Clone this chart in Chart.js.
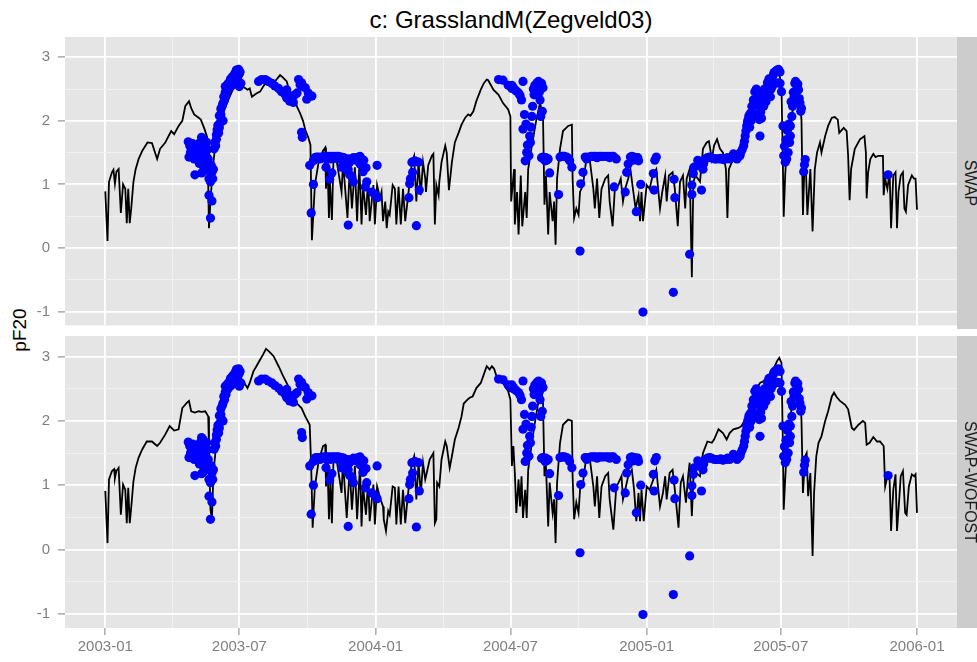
<!DOCTYPE html>
<html>
<head>
<meta charset="utf-8">
<title>c: GrasslandM(Zegveld03)</title>
<script src="https://cdn.jsdelivr.net/npm/chart.js@4.4.1/dist/chart.umd.min.js"></script>
<style>
  html, body { margin: 0; padding: 0; background: #fff; overflow: hidden; }
  #wrap { position: relative; width: 977px; height: 662px; overflow: hidden;
          font-family: "Liberation Sans", Arial, sans-serif; }
  canvas { position: absolute; left: 0; }
  #topChart { top: 0; }
  #bottomChart { top: 330px; }
  .title { position: absolute; left: 65px; width: 892px; top: 6px; text-align: center;
           font-size: 24px; color: #000; }
  .ylab { position: absolute; left: 20px; top: 330px; font-size: 19px; color: #000;
          transform: translate(-50%, -50%) rotate(-90deg); white-space: nowrap; }
  .strip { position: absolute; left: 957px; width: 26px; background: #CCCCCC; }
  .strip span { position: absolute; left: 13px; top: 50%; font-size: 16px; color: #1A1A1A;
                transform: translate(-50%, -50%) rotate(90deg); white-space: nowrap; }
</style>
</head>
<body>
<div id="wrap">
  <div class="title">c: GrasslandM(Zegveld03)</div>
  <div class="ylab">pF20</div>
  <canvas id="topChart" width="977" height="330"></canvas>
  <canvas id="bottomChart" width="977" height="332"></canvas>
  <div class="strip" style="top:37px;height:292px;"><span>SWAP</span></div>
  <div class="strip" style="top:336px;height:292px;"><span>SWAP-WOFOST</span></div>
</div>
<script>
// x values are days since 2003-01-01
const xTickDays = [0, 181, 365, 547, 731, 912, 1096];
const xTickLabels = ['2003-01', '2003-07', '2004-01', '2004-07', '2005-01', '2005-07', '2006-01'];
const yTickValues = [-1, 0, 1, 2, 3];
const facetLabels = ['SWAP', 'SWAP-WOFOST'];

// simulated pF, SWAP run [day, pF]
const swapLine = [
  [0,0.89],[3,0.11],[5,1.04],[9,1.19],[11,1.23],[13,1.01],[15,1.20],[18,1.24],[21,0.55],[24,1.00],
  [27,0.93],[29,0.39],[31,0.93],[33,0.39],[35,0.62],[38,1.04],[41,1.24],[45,1.40],[50,1.53],[57,1.66],
  [63,1.65],[70,1.40],[74,1.56],[81,1.66],[89,1.84],[93,1.79],[99,1.92],[104,2.00],[108,2.23],[113,2.31],
  [116,2.20],[120,2.10],[126,2.05],[129,2.02],[134,1.87],[137,1.76],[138,1.71],[140,0.31],[142,0.73],[145,1.24],
  [148,1.56],[153,1.81],[156,2.02],[161,2.18],[166,2.33],[173,2.51],[177,2.59],[182,2.51],[186,2.54],[192,2.49],
  [195,2.51],[198,2.38],[204,2.43],[209,2.46],[216,2.59],[220,2.65],[227,2.59],[236,2.72],[240,2.68],[245,2.62],
  [249,2.45],[254,2.38],[259,2.22],[263,2.12],[267,2.00],[270,1.86],[274,1.74],[277,1.62],[279,0.12],[283,0.99],
  [288,1.35],[294,1.53],[297,1.58],[298,0.93],[300,1.35],[302,0.47],[303,1.09],[306,0.44],[308,1.35],[312,1.40],
  [319,0.88],[321,1.35],[327,0.47],[330,1.24],[333,0.62],[337,1.27],[340,0.42],[343,1.30],[346,0.37],[348,0.99],
  [352,0.52],[355,1.09],[357,0.42],[362,0.99],[364,0.37],[367,0.99],[371,0.78],[373,0.88],[375,0.42],[378,0.73],
  [380,0.31],[382,0.57],[384,0.52],[388,0.99],[391,0.93],[393,0.37],[396,0.96],[399,0.37],[402,0.93],[405,0.42],
  [408,0.73],[411,1.04],[414,1.35],[417,1.45],[420,0.73],[423,1.35],[426,0.83],[429,1.35],[432,1.09],[433,0.88],
  [436,1.30],[441,1.45],[443,1.48],[445,0.37],[447,0.99],[450,0.83],[451,1.04],[454,1.35],[459,1.61],[461,1.50],
  [464,0.91],[468,1.35],[472,1.66],[477,1.81],[481,1.94],[486,2.05],[490,2.10],[493,2.08],[497,2.15],[501,2.31],
  [507,2.49],[511,2.59],[515,2.65],[517,2.64],[524,2.49],[531,2.41],[537,2.28],[544,2.18],[547,2.07],[548,0.73],
  [552,1.24],[553,0.37],[556,0.88],[558,0.21],[561,1.14],[563,0.34],[567,0.88],[569,0.47],[571,1.24],[576,1.61],
  [582,2.02],[587,2.28],[591,2.07],[593,0.68],[595,1.14],[598,0.21],[600,0.88],[604,0.42],[606,0.73],[608,0.05],
  [610,1.09],[614,1.56],[618,1.84],[625,1.92],[630,1.94],[631,1.09],[633,0.47],[636,0.62],[639,0.52],[641,0.88],
  [645,0.99],[649,1.35],[654,1.40],[659,0.93],[661,0.62],[664,1.09],[667,0.47],[670,0.93],[675,1.09],[679,1.14],
  [681,0.73],[685,0.34],[688,0.93],[693,0.99],[696,1.09],[699,0.73],[702,0.93],[706,1.09],[709,1.24],[713,0.88],
  [716,0.62],[720,0.83],[722,0.42],[724,0.88],[726,0.42],[731,0.99],[735,0.93],[739,1.14],[744,1.24],[749,0.62],
  [752,0.88],[756,1.14],[758,0.73],[761,1.14],[766,1.19],[769,0.93],[773,0.34],[776,1.04],[780,1.14],[783,0.62],
  [785,1.09],[789,1.24],[792,-0.46],[794,1.04],[797,1.14],[803,1.04],[807,1.56],[812,1.66],[815,1.68],[819,1.40],
  [822,1.61],[826,1.71],[830,1.56],[834,1.50],[838,1.24],[840,0.47],[842,1.24],[846,1.35],[850,1.50],[857,1.56],
  [862,1.76],[868,2.02],[875,2.28],[882,2.38],[889,2.28],[893,2.44],[900,2.59],[907,2.75],[911,2.69],[913,2.54],
  [915,1.24],[916,0.49],[918,1.14],[921,1.76],[927,2.12],[934,2.33],[938,2.28],[940,2.02],[942,0.52],[944,1.30],
  [946,1.24],[948,0.52],[952,1.24],[955,0.26],[958,1.24],[961,1.50],[965,1.66],[967,1.50],[972,1.76],[976,1.92],
  [981,2.05],[985,2.06],[989,2.02],[991,1.81],[997,1.89],[1001,1.84],[1003,1.45],[1005,0.75],[1007,1.24],[1012,1.56],
  [1019,1.71],[1025,1.76],[1027,1.50],[1028,0.78],[1030,1.19],[1033,1.40],[1037,1.48],[1040,1.43],[1044,1.45],[1050,1.45],
  [1051,0.83],[1053,1.09],[1056,0.93],[1059,1.19],[1061,0.31],[1064,1.14],[1067,1.19],[1069,0.31],[1071,0.88],[1074,1.14],
  [1077,1.19],[1079,0.62],[1081,0.57],[1084,0.99],[1089,1.14],[1092,1.09],[1094,1.09],[1096,0.60]
];

// simulated pF, SWAP-WOFOST run [day, pF]
const wofostLine = [
  [0,0.91],[3,0.10],[5,1.09],[9,1.22],[12,1.25],[13,1.11],[15,1.22],[18,1.27],[21,0.54],[24,1.01],
  [27,0.93],[29,0.41],[31,0.96],[33,0.41],[35,0.65],[38,1.06],[41,1.27],[45,1.43],[50,1.56],[56,1.68],
  [63,1.68],[70,1.61],[74,1.66],[81,1.79],[87,1.92],[93,1.85],[99,1.87],[104,2.20],[110,2.28],[113,2.31],
  [116,2.15],[121,2.13],[126,2.15],[130,2.14],[135,2.15],[139,2.07],[140,1.56],[142,0.62],[144,0.47],[146,1.19],
  [150,1.66],[155,1.92],[159,2.23],[164,2.44],[171,2.59],[177,2.70],[182,2.59],[186,2.62],[192,2.51],[195,2.59],
  [200,2.77],[204,2.85],[209,2.95],[213,3.03],[217,3.12],[221,3.08],[227,3.01],[234,2.85],[240,2.70],[247,2.54],
  [252,2.38],[258,2.28],[265,2.20],[270,2.07],[276,1.94],[278,1.30],[280,0.34],[283,0.98],[288,1.37],[294,1.61],
  [297,1.63],[298,0.98],[300,1.35],[302,0.47],[304,1.09],[306,0.41],[308,1.35],[312,1.43],[319,0.88],[321,1.37],
  [326,0.49],[330,1.27],[333,0.62],[337,1.30],[340,0.47],[344,1.32],[346,0.36],[348,0.98],[352,0.54],[355,1.09],
  [357,0.44],[362,1.01],[364,0.39],[367,0.98],[371,0.80],[375,0.67],[376,0.47],[379,0.29],[382,0.60],[384,0.54],
  [388,0.98],[391,0.96],[393,0.39],[396,0.98],[399,0.39],[402,0.93],[405,0.41],[408,0.78],[411,1.09],[414,1.35],
  [417,1.45],[420,0.78],[423,1.35],[426,0.86],[429,1.35],[432,1.09],[434,1.19],[438,1.40],[443,1.50],[445,0.41],
  [447,0.47],[448,1.04],[451,0.98],[454,1.40],[459,1.68],[461,1.61],[465,1.27],[468,1.45],[472,1.71],[477,1.89],
  [481,2.07],[484,2.27],[489,2.33],[492,2.36],[496,2.38],[501,2.51],[507,2.59],[511,2.72],[515,2.85],[519,2.80],
  [522,2.85],[525,2.81],[528,2.70],[537,2.59],[544,2.46],[547,2.33],[549,1.30],[551,1.61],[553,1.19],[555,0.57],
  [558,1.09],[560,0.67],[562,1.14],[564,0.49],[567,0.93],[569,0.49],[571,1.24],[576,1.66],[580,1.97],[585,2.31],
  [589,2.46],[591,2.28],[593,1.14],[595,1.30],[598,0.36],[600,1.04],[604,0.57],[606,0.78],[608,0.10],[610,1.04],
  [614,1.66],[618,1.94],[625,2.02],[630,2.00],[631,1.14],[633,0.47],[636,0.73],[639,0.57],[641,0.93],[645,1.04],
  [649,1.40],[654,1.43],[659,0.98],[661,0.67],[664,1.14],[667,0.49],[670,0.98],[675,1.14],[679,1.19],[681,0.78],
  [686,0.31],[690,0.98],[693,1.04],[697,1.14],[699,0.78],[703,0.98],[706,1.14],[711,1.24],[714,0.93],[717,0.44],
  [720,0.88],[722,0.44],[724,0.93],[727,0.44],[731,0.98],[735,0.93],[740,1.09],[744,1.24],[749,0.67],[753,0.88],
  [756,1.14],[758,0.78],[762,1.19],[766,1.24],[769,0.93],[774,0.34],[777,1.04],[780,1.14],[784,0.73],[787,1.14],
  [789,1.35],[792,0.52],[794,1.09],[798,1.19],[803,1.14],[807,1.50],[813,1.68],[819,1.66],[822,1.71],[828,1.87],
  [834,1.81],[839,1.71],[843,1.81],[848,1.87],[855,1.89],[859,1.92],[864,2.02],[871,2.23],[877,2.46],[884,2.59],
  [889,2.62],[895,2.70],[902,2.80],[907,2.93],[910,2.98],[913,2.90],[915,1.56],[916,0.62],[918,1.09],[921,1.71],
  [927,2.23],[933,2.49],[938,2.44],[940,2.02],[942,0.88],[945,1.45],[947,1.50],[949,0.83],[952,1.19],[955,-0.10],
  [957,0.88],[960,1.45],[963,1.66],[967,1.76],[972,2.00],[976,2.15],[981,2.38],[984,2.44],[987,2.38],[992,2.31],
  [999,2.25],[1003,2.18],[1008,1.89],[1011,1.86],[1017,1.94],[1023,2.00],[1026,1.97],[1028,1.63],[1032,1.66],[1037,1.75],
  [1042,1.68],[1046,1.68],[1051,1.61],[1053,0.98],[1056,1.14],[1059,1.09],[1061,0.29],[1064,0.93],[1067,1.17],[1069,0.29],
  [1072,0.78],[1074,1.14],[1077,1.22],[1080,0.57],[1082,0.54],[1085,0.98],[1089,1.17],[1092,1.14],[1094,1.17],[1096,0.57]
];

// measured pF, same in both panels [day, pF]
const observed = [
  [112,1.67],[114,1.61],[117,1.56],[113,1.43],[119,1.53],[121,1.61],[123,1.50],[126,1.56],[128,1.66],[130,1.74],
  [132,1.71],[135,1.61],[137,1.66],[126,1.45],[128,1.37],[130,1.35],[132,1.37],[135,1.35],[137,1.32],[139,1.32],
  [141,1.24],[144,1.19],[146,1.24],[121,1.15],[130,1.18],[132,1.20],[117,1.43],[140,1.09],[142,1.04],[145,1.09],
  [140,0.83],[144,0.74],[142,0.47],
  [115,1.50],[118,1.64],[120,1.40],[124,1.62],[125,1.40],[127,1.52],[129,1.47],[131,1.58],[133,1.64],[134,1.50],
  [136,1.45],[138,1.55],[127,1.33],[133,1.28],[139,1.40],[143,1.30],
  [147,1.56],[149,1.61],[150,1.71],[153,1.81],[154,1.89],[155,1.97],[157,2.03],[159,2.00],[156,2.19],[159,2.28],
  [161,2.33],[163,2.41],[165,2.49],[162,2.54],[164,2.56],[166,2.59],[168,2.60],[171,2.62],[173,2.67],[175,2.75],
  [177,2.80],[180,2.81],[182,2.77],[179,2.69],[183,2.59],[181,2.54],
  [148,1.66],[150,1.78],[151,1.86],[152,1.93],[154,2.08],[156,2.10],[158,2.24],[160,2.38],[162,2.45],[167,2.52],
  [169,2.66],[170,2.55],[172,2.70],[174,2.64],[176,2.72],[178,2.76],[181,2.74],
  [207,2.62],[211,2.65],[216,2.65],[220,2.62],[225,2.59],[229,2.55],[234,2.51],[238,2.46],[243,2.41],[245,2.36],
  [249,2.31],[254,2.29],[245,2.49],[250,2.39],[256,2.41],[259,2.44],[261,2.65],[263,2.57],[265,2.60],[267,2.54],
  [270,2.52],[272,2.34],[274,2.44],[279,2.39],[265,1.82],[266,1.74],
  [276,1.30],[281,1.37],[285,1.43],[288,1.43],[292,1.43],[295,1.44],[299,1.44],[302,1.44],[306,1.44],[309,1.44],
  [312,1.44],[315,1.44],[319,1.43],[322,1.42],[324,1.40],[327,1.40],[330,1.35],[337,1.39],[340,1.42],[342,1.43],
  [344,1.44],[346,1.40],[281,1.00],[278,0.55],[298,1.27],[303,1.08],[306,1.18],[319,1.27],[328,0.36],[333,1.12],
  [335,1.04],[328,1.24],[352,1.26],[351,0.96],[353,1.04],[360,0.88],[364,0.84],[367,0.79],[367,1.30],
  [283,1.42],[290,1.40],[297,1.42],[304,1.40],[311,1.41],[317,1.40],[326,1.37],[332,1.40],[335,1.42],[339,1.38],
  [349,1.38],[299,1.40],[321,1.30],[326,1.22],[330,1.15],[344,1.32],[348,1.20],
  [411,1.01],[412,1.09],[415,1.19],[414,1.35],[418,1.37],[423,1.35],[424,0.91],[410,0.79],[420,0.35],
  [531,2.65],[537,2.64],[544,2.56],[549,2.51],[549,2.56],[553,2.49],[558,2.44],[562,2.33],[564,2.62],[564,1.87],
  [569,1.50],[567,1.37],[573,1.76],[574,1.66],[576,2.07],[577,2.23],[579,2.41],[580,2.56],[585,2.62],[589,2.59],
  [587,2.33],[590,2.15],[588,2.07],
  [566,2.10],[568,1.95],[570,1.62],[572,1.45],[575,1.90],[578,2.50],[581,2.47],[583,2.60],[586,2.45],[591,2.52],
  [555,2.47],[560,2.40],[551,2.52],[589,1.42],[592,1.40],[596,1.38],
  [591,1.43],[594,1.37],[595,1.42],[598,1.40],[600,1.18],[612,0.84],[614,1.43],[616,1.44],[618,1.44],[620,1.44],
  [623,1.43],[627,1.37],[630,1.27],[641,-0.05],[642,1.01],[645,1.19],[648,1.43],[652,1.43],[656,1.44],[659,1.44],
  [662,1.44],[666,1.44],[669,1.44],[672,1.44],[676,1.44],[679,1.44],[683,1.44],[686,1.44],[687,0.96],[702,0.88],
  [704,1.19],[706,1.32],[709,1.43],[711,1.44],[714,1.43],[717,1.42],[720,1.37],[717,0.57],[723,1.00],[726,-1.01],
  [740,1.17],[741,0.91],[742,1.38],[744,1.43],
  [625,1.41],[650,1.40],[664,1.42],[681,1.42],[690,1.40],[713,1.38],[719,1.42],
  [768,1.08],[769,0.79],[767,-0.70],[792,0.99],[792,0.84],[794,1.17],[795,1.27],[789,-0.10],[805,0.91],[807,1.24],
  [810,1.40],[813,1.42],[816,1.43],[820,1.41],[825,1.40],[829,1.40],[834,1.39],[838,1.40],[843,1.40],[846,1.43],
  [848,1.48],[853,1.40],[857,1.45],
  [800,1.38],[803,1.30],[808,1.33],[818,1.42],[823,1.40],[831,1.41],[836,1.40],[840,1.42],[850,1.43],[855,1.44],
  [862,1.61],[864,1.76],[866,1.92],[868,2.02],[871,2.12],[873,2.23],[875,2.33],[877,2.46],[880,2.36],[882,2.25],
  [884,1.76],[886,2.04],[889,2.23],[891,2.38],[893,2.49],[895,2.54],[898,2.38],[900,2.64],[902,2.72],[907,2.80],
  [911,2.77],[911,2.59],[913,2.46],[915,1.92],[916,1.45],[918,1.35],[920,1.40],[922,1.50],[924,1.66],[925,1.76],
  [925,1.92],[927,2.07],[928,2.23],[930,2.38],[931,2.59],[934,2.54],[936,2.49],[938,2.28],[939,2.15],[945,1.39],
  [943,1.20],
  [858,1.50],[860,1.55],[863,1.68],[865,1.84],[867,1.98],[869,2.08],[870,1.90],[872,2.00],[874,2.15],[876,2.28],
  [878,2.10],[879,2.50],[881,2.44],[883,2.02],[885,2.14],[887,2.30],[888,2.42],[890,2.50],[892,2.30],[894,2.60],
  [896,2.66],[899,2.50],[901,2.55],[903,2.76],[905,2.78],[909,2.81],[908,2.60],
  [917,1.60],[919,1.70],[921,1.85],[923,1.95],[926,2.30],[929,2.45],[932,2.62],[935,2.58],[937,2.35],[940,2.20],
  [944,1.31],
  [1057,1.15]
];

// ggplot style minor breaks sit half way between the major ones
const xMinorDays = xTickDays.slice(1).map((d, i) => (d + xTickDays[i]) / 2);
const yMinorValues = yTickValues.slice(1).map((v, i) => (v + yTickValues[i]) / 2);

const panelBg = {
  id: 'panelBg',
  beforeDraw(chart) {
    const { ctx, chartArea: a } = chart;
    ctx.save();
    ctx.fillStyle = '#E5E5E5';
    ctx.fillRect(a.left, a.top, a.right - a.left, a.bottom - a.top);
    ctx.restore();
  }
};

function toXY(list) {
  return list.map(p => ({ x: p[0], y: p[1] }));
}

// the label overhang would otherwise push the panels apart
function noOverhang(s) {
  s.paddingTop = 0;
  s.paddingBottom = 0;
  s.paddingLeft = 0;
  s.paddingRight = 0;
}

function makePanel(canvasId, lineData, padTop, xHeight, showX) {
  const ctx = document.getElementById(canvasId).getContext('2d');
  return new Chart(ctx, {
    type: 'scatter',
    data: {
      datasets: [
        {
          label: 'observed',
          data: toXY(observed),
          backgroundColor: '#0000FF',
          borderColor: '#0000FF',
          borderWidth: 0,
          pointRadius: 4.6,
          order: 0
        },
        {
          label: 'simulated',
          data: toXY(lineData),
          showLine: true,
          borderColor: '#000000',
          borderWidth: 1.8,
          pointRadius: 0,
          tension: 0,
          order: 1
        }
      ]
    },
    options: {
      responsive: false,
      animation: false,
      events: [],
      layout: { padding: { top: padTop, right: 20, left: 0, bottom: 0 } },
      plugins: {
        legend: { display: false },
        tooltip: { enabled: false }
      },
      scales: {
        x: {
          type: 'linear',
          min: -54.4,
          max: 1150,
          afterBuildTicks: s => {
            s.ticks = xTickDays.concat(xMinorDays).sort((a, b) => a - b).map(v => ({ value: v }));
          },
          afterFit: s => { s.height = xHeight; noOverhang(s); },
          border: { display: false },
          grid: {
            color: c => xTickDays.includes(c.tick.value) ? '#FFFFFF' : '#F2F2F2',
            lineWidth: c => xTickDays.includes(c.tick.value) ? 1.8 : 0.9,
            drawTicks: showX,
            tickLength: 7,
            tickWidth: 1,
            tickColor: c => xTickDays.includes(c.tick.value) ? '#7F7F7F' : 'rgba(0,0,0,0)'
          },
          ticks: {
            display: showX,
            autoSkip: false,
            maxRotation: 0,
            padding: 3,
            color: '#7F7F7F',
            font: { family: '"Liberation Sans", Arial, sans-serif', size: 15 },
            callback: v => {
              const i = xTickDays.indexOf(v);
              return i >= 0 ? xTickLabels[i] : '';
            }
          }
        },
        y: {
          type: 'linear',
          min: -1.22,
          max: 3.32,
          afterBuildTicks: s => {
            s.ticks = yTickValues.concat(yMinorValues).sort((a, b) => a - b).map(v => ({ value: v }));
          },
          afterFit: s => { s.width = 65; noOverhang(s); },
          border: { display: false },
          grid: {
            color: c => yTickValues.includes(c.tick.value) ? '#FFFFFF' : '#F2F2F2',
            lineWidth: c => yTickValues.includes(c.tick.value) ? 1.8 : 0.9,
            drawTicks: true,
            tickLength: 7,
            tickWidth: 1,
            tickColor: c => yTickValues.includes(c.tick.value) ? '#7F7F7F' : 'rgba(0,0,0,0)'
          },
          ticks: {
            autoSkip: false,
            padding: 8,
            color: '#7F7F7F',
            font: { family: '"Liberation Sans", Arial, sans-serif', size: 15 },
            callback: v => yTickValues.includes(v) ? String(v) : ''
          }
        }
      }
    },
    plugins: [panelBg]
  });
}

makePanel('topChart', swapLine, 37, 1, false);
makePanel('bottomChart', wofostLine, 6, 34, true);
</script>
</body>
</html>
